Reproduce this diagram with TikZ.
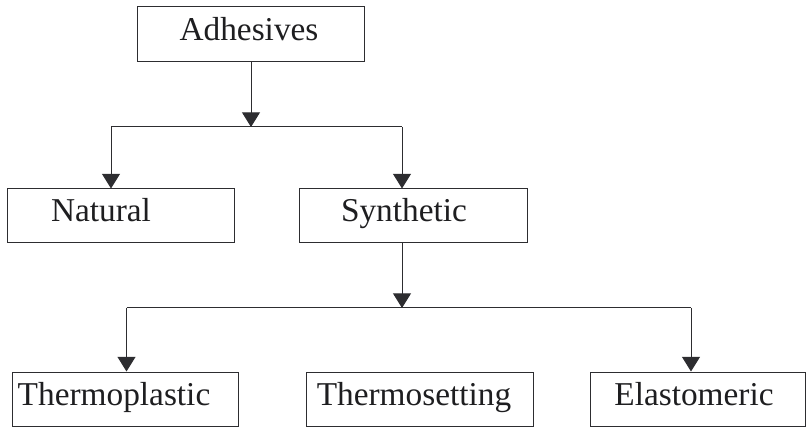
\documentclass[tikz,border=0pt]{standalone}
\usepackage{fontspec}
\setmainfont{Liberation Serif}
\usetikzlibrary{arrows.meta}
\definecolor{linegray}{RGB}{45,45,48}
\definecolor{textgray}{RGB}{30,30,32}

\begin{document}
\begin{tikzpicture}[x=0.75pt,y=0.75pt,yscale=-1,xscale=1,
  box/.style={draw=linegray,line width=0.75pt,rectangle,inner sep=0pt,minimum height=40.5pt},
  lbl/.style={anchor=base,inner sep=0.75pt,text=textgray,font=\fontsize{25}{30}\selectfont},
  link/.style={draw=linegray,line width=0.75pt},
  arr/.style={link,-{Triangle[width=13.5pt,length=11pt]}}]
\useasboundingbox (0,0) rectangle (806,427);

%Shape: Rectangle [id:adhesives]
\node[box,minimum width=170.25pt,minimum height=41.25pt] (adhesives) at (250.5,34.5) {};
%Shape: Rectangle [id:natural]
\node[box,minimum width=170.25pt] (natural) at (120.5,216) {};
%Shape: Rectangle [id:synthetic]
\node[box,minimum width=171pt] (synthetic) at (413,216) {};
%Shape: Rectangle [id:thermoplastic]
\node[box,minimum width=169.5pt] (thermoplastic) at (125,399) {};
%Shape: Rectangle [id:thermosetting]
\node[box,minimum width=170.25pt] (thermosetting) at (419.5,399) {};
%Shape: Rectangle [id:elastomeric]
\node[box,minimum width=161.25pt] (elastomeric) at (697.5,399) {};

%Junctions
\coordinate (split1) at (251,127);
\coordinate (left1) at (111,127);
\coordinate (right1) at (402,127);
\coordinate (split2) at (402,308);
\coordinate (left2) at (126.5,308);
\coordinate (right2) at (691,308);

%Straight Lines
\draw[arr] (adhesives.south -| split1) -- (split1);
\draw[link] (left1) -- (right1);
\draw[arr] (left1) -- (left1 |- natural.north);
\draw[arr] (right1) -- (right1 |- synthetic.north);
\draw[arr] (split2 |- synthetic.south) -- (split2);
\draw[link] (left2) -- (right2);
\draw[arr] (left2) -- (left2 |- thermoplastic.north);
\draw[arr] (right2) -- (right2 |- elastomeric.north);

% Text Node
\node[lbl] (t-adhesives) at (249,41) {Adhesives};
% Text Node
\node[lbl] (t-natural) at (101,222) {Natural};
% Text Node
\node[lbl] (t-synthetic) at (404,222) {Synthetic};
% Text Node
\node[lbl] (t-thermoplastic) at (114,405) {Thermoplastic};
% Text Node
\node[lbl] (t-thermosetting) at (414,405) {Thermosetting};
% Text Node
\node[lbl] (t-elastomeric) at (694,405) {Elastomeric};

\end{tikzpicture}
\end{document}
